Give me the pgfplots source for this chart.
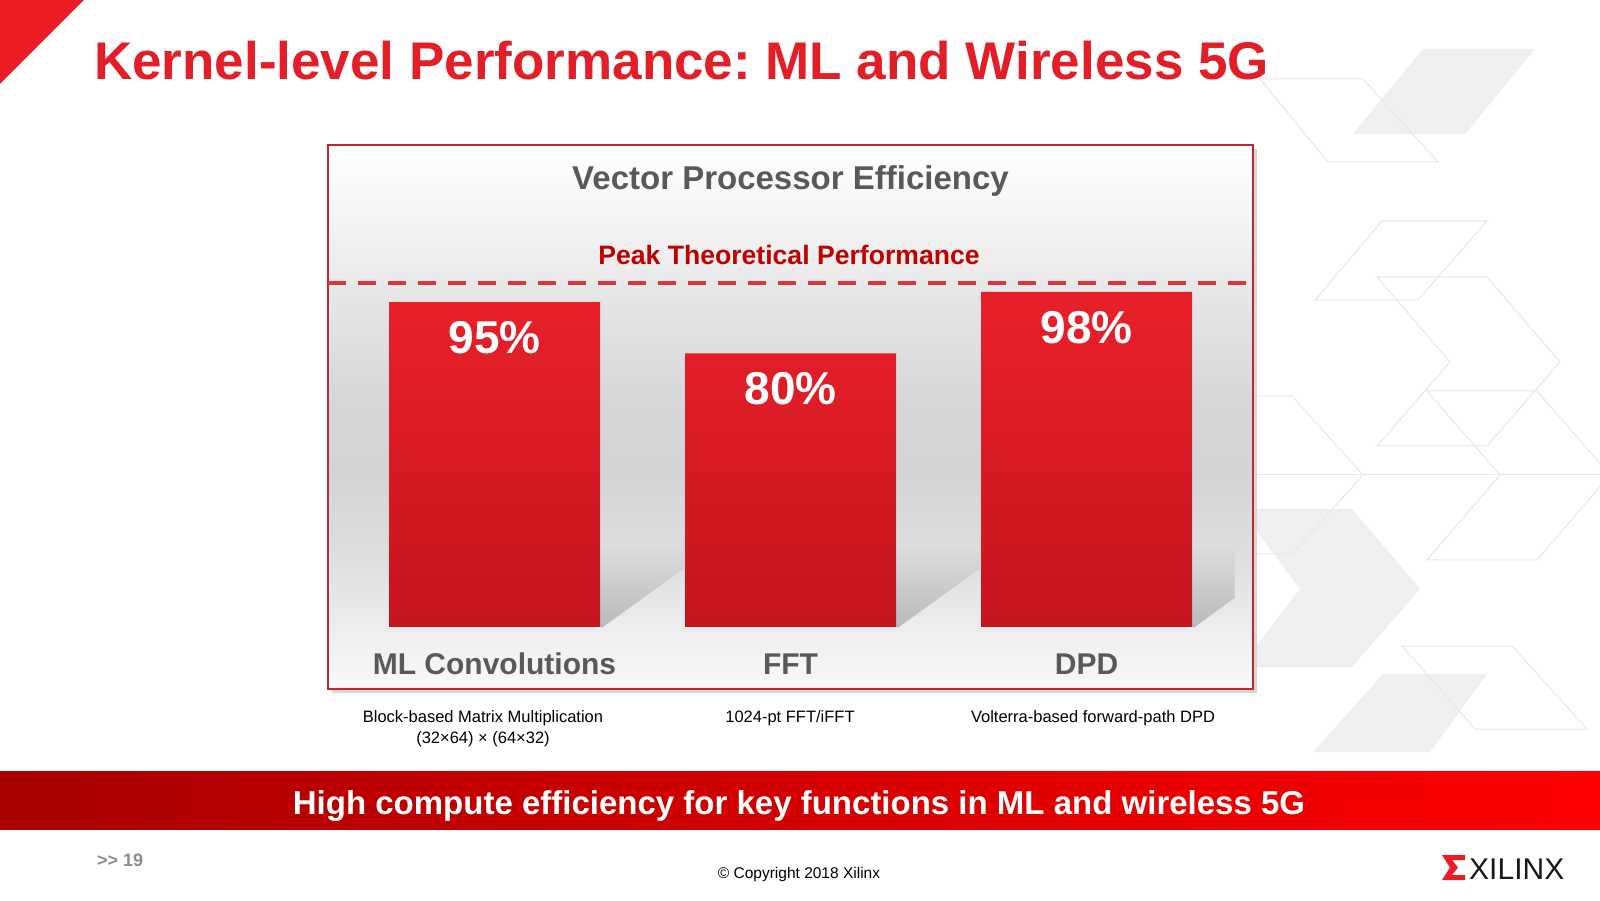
\documentclass[border=0pt]{standalone}
\usepackage{fontspec}
\setmainfont{Liberation Sans}
\usepackage{pgfplots}
\pgfplotsset{compat=1.18}
\frenchspacing

\definecolor{titleRed}{HTML}{E41E26}
\definecolor{triRed}{HTML}{ED1C24}
\definecolor{grayTxt}{HTML}{595959}
\definecolor{peakRed}{HTML}{C00000}
\definecolor{dashRed}{HTML}{D7383D}
\definecolor{barTop}{HTML}{E9202A}
\definecolor{barBot}{HTML}{C5151D}
\definecolor{frameRed}{HTML}{C0282D}
\definecolor{deco}{HTML}{EFEFEF}
\definecolor{decoLine}{HTML}{E8E8E8}
\definecolor{bannerL}{HTML}{A80000}
\definecolor{bannerR}{HTML}{FF0000}
\definecolor{footGray}{HTML}{8C8C8C}
\definecolor{bgA}{HTML}{F8F8F8}
\definecolor{bgB}{HTML}{F0F0F0}
\definecolor{bgC}{HTML}{DFDFDF}
\definecolor{bgD}{HTML}{D4D4D4}
\definecolor{bgE}{HTML}{D7D7D7}
\definecolor{bgF}{HTML}{E6E6E6}
\definecolor{bgG}{HTML}{F4F4F4}

\pgfdeclareverticalshading{chartbg}{100bp}{color(0bp)=(bgA); color(25bp)=(bgA); color(29.5bp)=(bgB); color(36.85bp)=(bgC); color(45bp)=(bgD); color(51.5bp)=(bgE); color(60.75bp)=(bgF); color(68bp)=(bgG); color(75bp)=(white); color(100bp)=(white)}

\begin{document}
\begin{tikzpicture}[x=1pt,y=1pt]
\useasboundingbox (0,0) rectangle (1600,900);
\clip (0,0) rectangle (1600,900);
\fill[white] (0,0) rectangle (1600,900);

% background decoration
\fill[deco] (1353,766) -- (1465,766) -- (1535,851) -- (1423,851) -- cycle;
\fill[deco] (1240,391) -- (1352,391) -- (1420,311) -- (1352,233) -- (1240,233) -- (1300,311) -- cycle;
\fill[deco] (1313,148) -- (1430,148) -- (1487,226) -- (1383,226) -- cycle;
\begin{scope}[draw=decoLine, line width=1pt]
\draw (1260,821) -- (1363,821) -- (1438,738) -- (1328,738) -- cycle;
\draw (1315,600) -- (1418,600) -- (1487,679) -- (1382,679) -- cycle;
\draw (1377,623) -- (1487,623) -- (1560,538) -- (1487,454) -- (1377,454) -- (1450,538) -- cycle;
\draw (1427,509) -- (1537,509) -- (1610,425) -- (1537,340) -- (1427,340) -- (1500,425) -- cycle;
\draw (1250,504) -- (1292,504) -- (1363,425) -- (1292,346) -- (1250,346);
\draw (1402,254) -- (1512,254) -- (1587,171) -- (1475,171) -- cycle;
\draw (1253,425) -- (1600,425);
\end{scope}

% top-left triangle
\fill[triRed] (0,900) -- (84,900) -- (0,816) -- cycle;

% frame drop shadow
\fill[black!16] (332,207) rectangle (1257,751);

\begin{axis}[
  at={(328pt,211pt)}, anchor=south west,
  width=925pt, height=544pt, scale only axis,
  xmin=-0.5625, xmax=2.5625, ymin=-18.13, ymax=140.94,
  axis background/.style={shading=chartbg},
  axis line style={draw=frameRed, line width=1.5pt},
  xtick={0,1,2}, xticklabels={ML Convolutions, FFT, DPD},
  ytick=\empty, major tick length=0pt,
  xticklabel style={font=\fontsize{30}{36}\selectfont\bfseries, text=grayTxt, anchor=base, yshift=15pt},
]
% bar shadows
\addplot[draw=none, top color=black!14, bottom color=black!27, forget plot]
  coordinates {(0.356,0) (0.356,22.8) (0.643,22.8) (0.643,17.25) (0.366,0)};
\addplot[draw=none, top color=black!14, bottom color=black!27, forget plot]
  coordinates {(1.356,0) (1.356,22.8) (1.643,22.8) (1.643,17.25) (1.366,0)};
\addplot[draw=none, top color=black!14, bottom color=black!27, forget plot]
  coordinates {(2.356,0) (2.356,22.8) (2.5,22.8) (2.5,8.5) (2.366,0)};
% peak line
\addplot[draw=dashRed, line width=4pt, dash pattern=on 18pt off 12pt, forget plot]
  coordinates {(-0.5625,100.6) (2.5625,100.6)};
% bars
\addplot[ybar, bar width=211pt, draw=none, top color=barTop, bottom color=barBot,
  nodes near coords={\pgfmathprintnumber[assume math mode=true]{\pgfplotspointmeta}\%},
  every node near coord/.append style={anchor=north, yshift=-19pt, inner sep=0pt,
    text=white, font=\fontsize{46}{50}\selectfont\bfseries}]
  coordinates {(0,95) (1,80) (2,98)};
\end{axis}

% titles
\node[anchor=base west, inner sep=0pt, text=titleRed, font=\fontsize{53}{60}\selectfont\bfseries]
  at (94,820) {Kernel-level Performance: ML and Wireless 5G};
\node[anchor=base, inner sep=0pt, text=grayTxt, font=\fontsize{33}{40}\selectfont\bfseries]
  at (790.5,710) {Vector Processor Efficiency};
\node[anchor=base, inner sep=0pt, text=peakRed, font=\fontsize{26.6}{32}\selectfont\bfseries]
  at (789,635.5) {Peak Theoretical Performance};

% descriptions
\begin{scope}[every node/.style={anchor=base, inner sep=0pt, font=\fontsize{16.5}{20}\selectfont}]
\node at (483,178) {Block-based Matrix Multiplication};
\node at (483,157) {(32×64) × (64×32)};
\node at (790,178) {1024-pt FFT/iFFT};
\node at (1093,178) {Volterra-based forward-path DPD};
\end{scope}

% banner
\shade[left color=bannerL, right color=bannerR] (0,71) rectangle (1600,129);
\node[anchor=base, inner sep=0pt, text=white, font=\fontsize{33}{40}\selectfont\bfseries]
  at (799,86) {High compute efficiency for key functions in ML and wireless 5G};

% footer
\node[anchor=base west, inner sep=0pt, text=footGray, font=\fontsize{18}{22}\selectfont\bfseries]
  at (97,34) {\textgreater{}\textgreater{} 19};
\node[anchor=base, inner sep=0pt, font=\fontsize{15.5}{19}\selectfont]
  at (799,22) {© Copyright 2018 Xilinx};
\fill[triRed] (1442,45) -- (1465,45) -- (1465,40) -- (1452,40) -- (1458,32.5) -- (1452,25) -- (1465,25) -- (1465,20) -- (1442,20) -- (1450,32.5) -- cycle;
\node[anchor=base west, inner sep=0pt, text=black!90, font=\fontsize{30}{36}\selectfont]
  at (1469,21) {XILINX};
\end{tikzpicture}
\end{document}
